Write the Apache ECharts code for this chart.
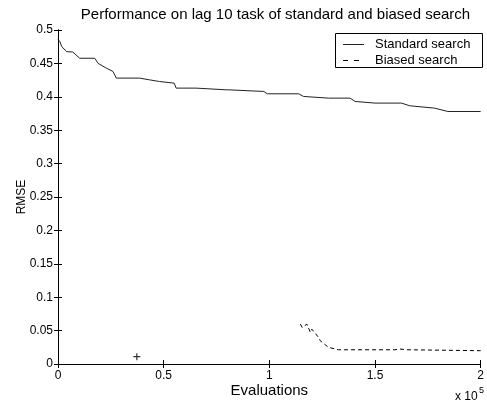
<!DOCTYPE html>
<html>
<head>
<meta charset="utf-8">
<script src="https://cdn.jsdelivr.net/npm/echarts@6/dist/echarts.min.js"></script>
<style>html,body{margin:0;padding:0;background:#fff}#c{width:487px;height:403px}</style>
</head>
<body>
<div id="c"></div>
<script>
const titleText = 'Performance on lag 10 task of standard and biased search';
const legendNames = ['Standard search', 'Biased search'];
const xTicks = [0, 50000, 100000, 150000, 200000];
const yTicks = [0, 0.05, 0.1, 0.15, 0.2, 0.25, 0.3, 0.35, 0.4, 0.45, 0.5];
const stdEvals = [0, 900, 1800, 4100, 7000, 10300, 17400, 19000, 22900, 26000, 27600, 38600, 43300, 48000, 55000, 55900, 65300, 79400, 80900, 97400, 99000, 113900, 116200, 128000, 138200, 140600, 150000, 162500, 166400, 178200, 184500, 200000];
const stdRmse = [0.486, 0.4825, 0.475, 0.4676, 0.467, 0.4577, 0.4577, 0.450, 0.4428, 0.438, 0.428, 0.428, 0.4254, 0.4229, 0.4204, 0.413, 0.413, 0.4105, 0.4104, 0.408, 0.4045, 0.4045, 0.4005, 0.398, 0.398, 0.393, 0.3906, 0.3906, 0.3866, 0.383, 0.378, 0.378];
const biasEvals = [114700, 115500, 117800, 119400, 120100, 123300, 124100, 128000, 132700, 159400, 161700, 165600, 200000];
const biasRmse = [0.0597, 0.0547, 0.0597, 0.0473, 0.0522, 0.0398, 0.0348, 0.0249, 0.0213, 0.0213, 0.0224, 0.0213, 0.0199];
const plusPoint = [37300, 0.011];

const font = '"Liberation Sans", Arial, Helvetica, sans-serif';
const chart = echarts.init(document.getElementById('c'), null, {renderer: 'canvas'});
const zip = (a, b) => a.map((v, i) => [v, b[i]]);
const hiddenAxis = {
  axisLine: {show: true, lineStyle: {color: '#000', width: 1}},
  axisTick: {show: true, inside: true, length: 4, lineStyle: {color: '#000'}},
  axisLabel: {show: false}, splitLine: {show: false}
};
chart.setOption({
  animation: false,
  backgroundColor: '#fff',
  title: {text: titleText, left: 270.5, textAlign: 'center', top: 2,
    textStyle: {fontFamily: font, fontSize: 15, fontWeight: 'normal', color: '#000'}},
  grid: {left: 58, right: 4, top: 30, bottom: 38, containLabel: false},
  xAxis: [
    {type: 'value', min: xTicks[0], max: xTicks[xTicks.length - 1], interval: 50000,
      axisLine: {show: true, onZero: false, lineStyle: {color: '#000'}},
      axisTick: {show: true, inside: true, length: 4, lineStyle: {color: '#000'}},
      axisLabel: {fontFamily: font, fontSize: 12, color: '#000', margin: 6,
        formatter: v => String(v / 100000)},
      splitLine: {show: false},
      name: 'Evaluations', nameLocation: 'middle', nameGap: 19, nameMoveOverlap: false,
      nameTextStyle: {fontFamily: font, fontSize: 15, color: '#000'}},
    Object.assign({type: 'value', position: 'top', min: 0, max: 200000, interval: 50000}, hiddenAxis)
  ],
  yAxis: [
    {type: 'value', min: yTicks[0], max: yTicks[yTicks.length - 1], interval: 0.05,
      axisLine: {show: true, onZero: false, lineStyle: {color: '#000'}},
      axisTick: {show: true, inside: true, length: 4, lineStyle: {color: '#000'}},
      axisLabel: {fontFamily: font, fontSize: 12, color: '#000', margin: 5,
        formatter: v => String(+v.toFixed(2))},
      splitLine: {show: false},
      name: 'RMSE', nameLocation: 'middle', nameGap: 30, nameMoveOverlap: false,
      nameTextStyle: {fontFamily: font, fontSize: 12, color: '#000'}},
    Object.assign({type: 'value', position: 'right', min: 0, max: 0.5, interval: 0.05}, hiddenAxis)
  ],
  graphic: [
    {type: 'text', left: 455, top: 391,
      style: {text: 'x 10', fontFamily: font, fontSize: 12, fill: '#000'}},
    {type: 'text', left: 479, top: 386,
      style: {text: '5', fontFamily: font, fontSize: 9, fill: '#000'}},
    {type: 'rect', shape: {x: 335.5, y: 33.5, width: 147, height: 34},
      style: {fill: '#fff', stroke: '#000', lineWidth: 1}, z: 10},
    {type: 'line', shape: {x1: 343, y1: 44.5, x2: 364, y2: 44.5},
      style: {stroke: '#222', lineWidth: 1}, z: 11},
    {type: 'line', shape: {x1: 343, y1: 60.5, x2: 364, y2: 60.5},
      style: {stroke: '#000', lineWidth: 1, lineDash: [5, 6]}, z: 11},
    {type: 'text', x: 375, y: 44.5, z: 11,
      style: {text: legendNames[0], fontFamily: font, fontSize: 13, fill: '#000', verticalAlign: 'middle'}},
    {type: 'text', x: 375, y: 60.5, z: 11,
      style: {text: legendNames[1], fontFamily: font, fontSize: 13, fill: '#000', verticalAlign: 'middle'}}
  ],
  series: [
    {name: legendNames[0], type: 'line', data: zip(stdEvals, stdRmse), symbol: 'none',
      lineStyle: {color: '#222', width: 1}, itemStyle: {color: '#222'}},
    {name: legendNames[1], type: 'line', data: zip(biasEvals, biasRmse), symbol: 'none',
      lineStyle: {color: '#000', width: 1, type: [4, 3]}, itemStyle: {color: '#000'}},
    {name: 'marker', type: 'scatter', data: [plusPoint], symbol: 'path://M-0.6,-3.5h1.2v2.9h2.9v1.2h-2.9v2.9h-1.2v-2.9h-2.9v-1.2h2.9z',
      symbolSize: 7, itemStyle: {color: '#000'}, silent: true}
  ]
});
</script>
</body>
</html>
